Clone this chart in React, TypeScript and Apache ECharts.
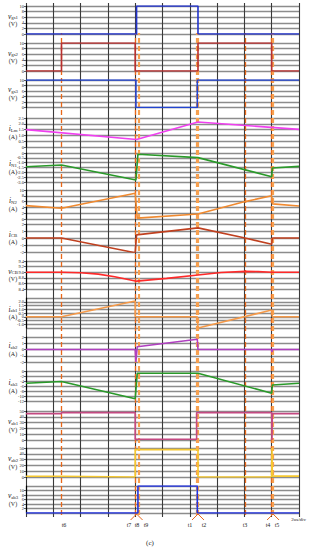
import React, { useEffect, useRef } from "react";
import * as echarts from "echarts";

// time axis: 0..20 us, 2 us/div
const timeLabels = ["t6", "t7", "t8", "t9", "t1", "t2", "t3", "t4", "t5"];
const eventTimes = [2.6, 8.0, 8.1, 8.25, 12.5, 12.6, 16.05, 18.0, 18.1];

const vgs1 = [[0, 0], [8.1, 0], [8.1, 10], [12.6, 10], [12.6, 0], [20, 0]];
const vgs2 = [[0, 0], [2.6, 0], [2.6, 10], [8.0, 10], [8.0, 0], [12.6, 0], [12.6, 10], [18.0, 10], [18.0, 0], [20, 0]];
const vgs3 = [[0, 10], [8.05, 10], [8.05, 0], [12.55, 0], [12.55, 10], [20, 10]];
const iLm = [[0, 1.5], [8.1, 0.65], [12.6, 2.15], [20, 1.52]];
const iN1 = [[0, -1.42], [2.6, -1.24], [8.05, -2.8], [8.2, -0.13], [12.6, -0.48], [18.0, -2.45], [18.05, -1.55], [20, -1.38]];
const iN2 = [[0, 4.6], [2.6, 3.7], [8.0, 8.9], [8.15, 0.3], [12.6, 1.7], [16.05, 6.0], [18.0, 8.0], [18.05, 5.2], [20, 4.5]];
const iCB = [[0, 0], [2.6, 0], [8.0, -2.1], [8.1, 0.45], [12.6, 1.45], [16.05, 0], [18.0, -0.9], [18.05, 0], [20, 0]];
const vCB = [[0, 9.0], [2.6, 9.0], [4, 8.98], [5.3, 8.93], [6.5, 8.84], [8.1, 8.68], [10.3, 8.78], [12.6, 8.9], [14.3, 8.99], [16.05, 9.03], [17, 9.02], [18.0, 9.0], [20, 9.0]];
const iab1 = [[0, 0], [2.6, 0], [8.0, 2.1], [8.0, 0], [12.55, 0], [12.6, -1.5], [18.0, 0.9], [18.05, 0], [20, 0]];
const iab2 = [[0, 0], [8.0, 0], [8.05, -2.0], [8.15, 0.45], [12.55, 1.65], [12.6, 0], [18.0, 0], [18.02, -0.4], [18.05, 0], [20, 0]];
const iab3 = [[0, -4.7], [2.6, -4.0], [8.0, -10.9], [8.15, -0.7], [12.6, -0.7], [18.0, -8.7], [18.05, -5.4], [20, -4.7]];
const vab1 = [[0, 45.5], [2.6, 45.5], [2.6, 47.2], [8.0, 47.2], [8.0, 1.2], [12.5, 1.2], [12.5, 47.2], [18.0, 47.2], [18.02, 0], [18.05, 45.5], [20, 45.5]];
const vab2 = [[0, 1.2], [2.6, 1.2], [2.6, 0], [8.0, 0], [8.0, 47.2], [12.6, 47.2], [12.6, 0], [18.0, 0], [18.02, 50], [18.05, 1.5], [20, 1.5]];
const vab3 = [[0, 0], [8.2, 0], [8.2, 12], [12.55, 12], [12.55, 0], [20, 0]];

const names = [
  ["v", "gs1", "(V)"], ["v", "gs2", "(V)"], ["v", "gs3", "(V)"], ["i", "Lm", "(A)"],
  ["i", "N1", "(A)"], ["i", "N2", "(A)"], ["i", "CB", "(A)"], ["v", "CB", "(V)"],
  ["i", "ab1", "(A)"], ["i", "ab2", "(A)"], ["i", "ab3", "(A)"], ["v", "ab1", "(V)"],
  ["v", "ab2", "(V)"], ["v", "ab3", "(V)"],
];
const seriesData = [vgs1, vgs2, vgs3, iLm, iN1, iN2, iCB, vCB, iab1, iab2, iab3, vab1, vab2, vab3];
const yMin = [0, 0, 0, 0, -3, 0, -2, 8.4, -1.5, -2, -12, 0, 0, 0];
const yMax = [10, 10, 10, 2.5, 0, 10, 2, 9.4, 2.5, 2, 0, 50, 50, 12];
const yStep = [2, 2, 2, 0.5, 0.5, 2, 1, 0.2, 0.5, 1, 2, 10, 10, 2];
const decimals = [0, 0, 0, 1, 1, 0, 0, 1, 1, 0, 0, 0, 0, 0];

// layout & styles
const colors = ["#2233cc", "#b83030", "#2244d0", "#f040f0", "#2a9a2a", "#f08a30", "#c0401f", "#ff2a2a", "#f59a4a", "#b040c0", "#2a9a2a", "#c44a82", "#f5c830", "#2233e0"];
const panelTop = [6, 43, 80, 118, 153, 190, 224, 261, 298, 337, 371.5, 411, 448, 486];
const panelBot = [34, 71, 107.5, 147, 182, 219, 252, 289, 328, 362, 401.5, 440, 477, 513];
const LEFT = 26;
const RIGHT = 10;
const W = 309;
const labelX = [64, 129, 137, 146, 190, 204, 245, 268, 277];
const dashStyle = ["dark", "dark", "none", "light", "light", "light", "dark", "dark", "light"];
const FONT = "'Liberation Serif', 'DejaVu Serif', serif";

export default function App() {
  const ref = useRef<HTMLDivElement>(null);
  useEffect(() => {
    if (!ref.current) return;
    const chart = echarts.init(ref.current, undefined, { renderer: "svg" });
    const plotW = W - LEFT - RIGHT;
    const xPix = (t: number) => LEFT + (t / 20) * plotW;

    const grids: any[] = [];
    const xAxes: any[] = [];
    const yAxes: any[] = [];
    const series: any[] = [];
    const graphics: any[] = [];

    seriesData.forEach((d, i) => {
      grids.push({ left: LEFT, right: RIGHT, top: panelTop[i], height: panelBot[i] - panelTop[i] });
      xAxes.push({ gridIndex: i, type: "value", min: 0, max: 20, interval: 2, show: false });
      const dec = decimals[i];
      yAxes.push({
        gridIndex: i, type: "value", min: yMin[i], max: yMax[i], interval: yStep[i],
        axisLine: { show: true, lineStyle: { color: "#000", width: 1.2 } },
        axisTick: { show: true, length: 2, lineStyle: { color: "#000", width: 0.6 } },
        axisLabel: {
          fontSize: 4.5, color: "#222", margin: 2, fontFamily: FONT,
          formatter: (v: number) => (Math.abs(v) < 1e-9 ? "0" : v.toFixed(dec)),
        },
        splitLine: { show: true, lineStyle: { color: "#8c8c8c", width: 1.4 } },
      });
      series.push({
        type: "line", xAxisIndex: i, yAxisIndex: i, data: d, showSymbol: false, symbol: "none",
        lineStyle: { color: colors[i], width: 1.6 }, z: 5,
      });
      const cy = (panelTop[i] + panelBot[i]) / 2;
      graphics.push({
        type: "text", x: 13, y: cy, z: 10,
        style: {
          text: `{a|${names[i][0]}}{b|${names[i][1]}}\n{c|${names[i][2]}}`,
          align: "center", verticalAlign: "middle",
          rich: {
            a: { fontFamily: FONT, fontSize: 7.5, fontStyle: "italic", fill: "#222", lineHeight: 8 },
            b: { fontFamily: FONT, fontSize: 4.8, fill: "#222", verticalAlign: "bottom", lineHeight: 8, padding: [2, 0, 0, 0] },
            c: { fontFamily: FONT, fontSize: 6, fill: "#222", lineHeight: 8 },
          },
        },
      });
    });

    // overlay grid: continuous vertical division lines
    const vi = seriesData.length;
    grids.push({ left: LEFT, right: RIGHT, top: 3, height: 514 });
    xAxes.push({
      gridIndex: vi, type: "value", min: 0, max: 20, interval: 2,
      axisLine: { show: false }, axisTick: { show: false }, axisLabel: { show: false },
      splitLine: { show: true, lineStyle: { color: "#3a3a3a", width: 1.1 } },
    });
    yAxes.push({ gridIndex: vi, type: "value", min: 0, max: 1, show: false });
    series.push({ type: "line", xAxisIndex: vi, yAxisIndex: vi, data: [[0, 0]], symbol: "none", lineStyle: { opacity: 0 }, silent: true });

    // overlay grid: dashed event lines
    const di = vi + 1;
    grids.push({ left: LEFT, right: RIGHT, top: 33, height: 482 });
    xAxes.push({ gridIndex: di, type: "value", min: 0, max: 20, show: false });
    yAxes.push({ gridIndex: di, type: "value", min: 0, max: 1, show: false });
    const mlData: any[] = [];
    eventTimes.forEach((t, k) => {
      if (dashStyle[k] === "none") return;
      const light = dashStyle[k] === "light";
      mlData.push({
        xAxis: t,
        lineStyle: { color: light ? "#f6a050" : "#e8681a", width: light ? 2.2 : 1.3, type: [5, 3] },
      });
    });
    series.push({
      type: "line", xAxisIndex: di, yAxisIndex: di, data: [[0, 0]], symbol: "none", lineStyle: { opacity: 0 }, z: 8,
      markLine: { silent: true, symbol: ["none", "none"], label: { show: false }, data: mlData, animation: false },
    });

    // bottom time labels
    timeLabels.forEach((lab, k) => {
      graphics.push({
        type: "text", x: labelX[k], y: 525, z: 10,
        style: { text: lab, fontFamily: FONT, fontSize: 6, fill: "#222", align: "center", verticalAlign: "middle" },
      });
    });
    // wedges joining close event pairs to their labels
    [[1, 2, 3], [4, 5], [7, 8]].forEach((grp) => {
      const apex = xPix(eventTimes[grp[Math.floor(grp.length / 2)]]);
      graphics.push({
        type: "polyline", z: 9,
        shape: { points: [[apex - 6, 520], [apex, 514], [apex + 6, 520]] },
        style: { stroke: "#e8681a", lineWidth: 1, fill: "none" },
      });
    });
    graphics.push({
      type: "text", x: 306, y: 519, z: 10,
      style: { text: "2us/div", fontFamily: FONT, fontSize: 5, fill: "#222", align: "right", verticalAlign: "middle" },
    });
    graphics.push({
      type: "text", x: 150, y: 543, z: 10,
      style: { text: "(c)", fontFamily: FONT, fontSize: 7, fill: "#222", align: "center", verticalAlign: "middle" },
    });

    chart.setOption({
      animation: false,
      backgroundColor: "#fff",
      grid: grids,
      xAxis: xAxes,
      yAxis: yAxes,
      series,
      graphic: graphics,
    });
    return () => chart.dispose();
  }, []);
  return <div ref={ref} style={{ width: 309, height: 550, position: "absolute", left: 0, top: 0 }} />;
}
